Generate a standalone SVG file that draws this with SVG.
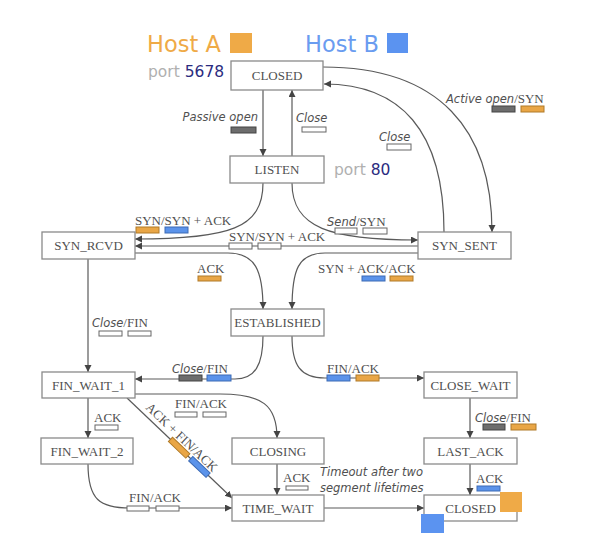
<svg xmlns="http://www.w3.org/2000/svg" width="606" height="551" viewBox="0 0 606 551">
<style>
.box{fill:#fff;stroke:#8a8a8a;stroke-width:1.3}
.st{font-family:"Liberation Serif",serif;font-size:13px;fill:#505050;text-anchor:middle}
.ln{fill:none;stroke:#5a5a5a;stroke-width:1.2}
.lb{font-family:"Liberation Serif",serif;font-size:13px;fill:#505050}
.it{font-family:"DejaVu Sans",sans-serif;font-style:italic;font-size:11.5px;fill:#505050}
.w{fill:#fff;stroke:#666;stroke-width:1}
.o{fill:#E9A646;stroke:#b07a28;stroke-width:1}
.b{fill:#5B93EA;stroke:#3d6bb5;stroke-width:1}
.g{fill:#6d6d6d;stroke:#444;stroke-width:1}
</style>
<defs>
<marker id="ar" markerUnits="userSpaceOnUse" markerWidth="8" markerHeight="8" refX="7" refY="3.5" orient="auto">
<path d="M0,0 L7,3.5 L0,7 z" fill="#444"/>
</marker>
</defs>
<rect width="606" height="551" fill="#fff"/>
<g id="legend">
<text x="147" y="52" font-family="DejaVu Sans,sans-serif" font-size="22.5" fill="#EFAA47">Host A</text>
<rect x="230" y="33" width="22" height="20" fill="#EFAA47"/>
<text x="305" y="52" font-family="DejaVu Sans,sans-serif" font-size="22.5" fill="#6A9CF0">Host B</text>
<rect x="387" y="33" width="21" height="20" fill="#5B93F0"/>
<text x="148" y="77" font-family="DejaVu Sans,sans-serif" font-size="15.5" fill="#b0b0b0">port <tspan fill="#2b2b80">5678</tspan></text>
<text x="334" y="175" font-family="DejaVu Sans,sans-serif" font-size="15.5" fill="#b0b0b0">port <tspan fill="#2b2b80">80</tspan></text>
</g>
<g id="connectors">
<path class="ln" marker-end="url(#ar)" d="M263,90 V156"/>
<path class="ln" marker-end="url(#ar)" d="M292,156 V90"/>
<path class="ln" marker-end="url(#ar)" d="M323,67 C440,67 492,130 492,232"/>
<path class="ln" marker-end="url(#ar)" d="M444,232 C444,130 400,84 324,84"/>
<path class="ln" marker-end="url(#ar)" d="M263,183 C263,228 230,239 135,239"/>
<path class="ln" marker-end="url(#ar)" d="M292,183 C292,228 330,240 418,240"/>
<path class="ln" marker-end="url(#ar)" d="M418,246 H135"/>
<path class="ln" marker-end="url(#ar)" d="M135,253 H228 C255,253 263,270 263,309"/>
<path class="ln" marker-end="url(#ar)" d="M418,253 H325 C298,253 292,270 292,309"/>
<path class="ln" marker-end="url(#ar)" d="M88,259 V372"/>
<path class="ln" marker-end="url(#ar)" d="M263,336 C263,365 255,379 235,379 H135"/>
<path class="ln" marker-end="url(#ar)" d="M292,336 C292,365 300,378 325,378 H424"/>
<path class="ln" marker-end="url(#ar)" d="M470,398 V438"/>
<path class="ln" marker-end="url(#ar)" d="M470,464 V495"/>
<path class="ln" marker-end="url(#ar)" d="M88,398 V438"/>
<path class="ln" marker-end="url(#ar)" d="M135,394 H220 C262,394 277,405 277,438"/>
<path class="ln" marker-end="url(#ar)" d="M127,398 L232,498"/>
<path class="ln" marker-end="url(#ar)" d="M277,464 V495"/>
<path class="ln" marker-end="url(#ar)" d="M88,464 C88,500 100,508 130,508 H232"/>
<path class="ln" marker-end="url(#ar)" d="M324,508 H424"/>
</g>
<g id="labels">
<text class="it" x="258" y="121" text-anchor="end">Passive open</text>
<rect class="g" x="231" y="127" width="25" height="6"/>
<text class="it" x="296" y="122">Close</text>
<rect class="w" x="302" y="127" width="24" height="5"/>
<text x="446" y="103"><tspan class="it">Active open</tspan><tspan class="lb">/SYN</tspan></text>
<rect class="g" x="492" y="106" width="23" height="6"/>
<rect class="o" x="521" y="106" width="23" height="6"/>
<text class="it" x="379" y="141">Close</text>
<rect class="w" x="387" y="144" width="24" height="6"/>
<text x="327" y="226"><tspan class="it">Send</tspan><tspan class="lb">/SYN</tspan></text>
<rect class="w" x="335" y="228" width="22" height="6"/>
<rect class="w" x="363" y="228" width="24" height="6"/>
<text class="lb" x="135" y="225">SYN/SYN + ACK</text>
<rect class="o" x="136" y="227" width="23" height="6"/>
<rect class="b" x="165" y="227" width="23" height="6"/>
<text class="lb" x="229" y="241">SYN/SYN + ACK</text>
<rect class="w" x="229" y="243" width="23" height="6"/>
<rect class="w" x="258" y="243" width="23" height="6"/>
<text class="lb" x="197" y="273">ACK</text>
<rect class="o" x="198" y="276" width="23" height="5"/>
<text class="lb" x="318" y="273">SYN + ACK/ACK</text>
<rect class="b" x="362" y="276" width="23" height="5"/>
<rect class="o" x="390" y="276" width="23" height="5"/>
<text x="92" y="327"><tspan class="it">Close</tspan><tspan class="lb">/FIN</tspan></text>
<rect class="w" x="99" y="331" width="23" height="5"/>
<rect class="w" x="128" y="331" width="23" height="5"/>
<text x="172" y="373"><tspan class="it">Close</tspan><tspan class="lb">/FIN</tspan></text>
<rect class="g" x="179" y="375" width="23" height="6"/>
<rect class="b" x="207" y="375" width="24" height="6"/>
<text class="lb" x="327" y="373">FIN/ACK</text>
<rect class="b" x="327" y="375" width="23" height="6"/>
<rect class="o" x="356" y="375" width="23" height="6"/>
<text x="475" y="422"><tspan class="it">Close</tspan><tspan class="lb">/FIN</tspan></text>
<rect class="g" x="483" y="424" width="22" height="6"/>
<rect class="o" x="511" y="424" width="25" height="6"/>
<text class="lb" x="476" y="483">ACK</text>
<rect class="b" x="477" y="486" width="23" height="5"/>
<text class="lb" x="94" y="422">ACK</text>
<rect class="w" x="95" y="425" width="23" height="5"/>
<text class="lb" x="175" y="408">FIN/ACK</text>
<rect class="w" x="175" y="412" width="22" height="5"/>
<rect class="w" x="203" y="412" width="23" height="5"/>
<text class="lb" x="283" y="482">ACK</text>
<rect class="w" x="286" y="486" width="22" height="4"/>
<text class="lb" x="129" y="502">FIN/ACK</text>
<rect class="w" x="127" y="506" width="22" height="5"/>
<rect class="w" x="156" y="506" width="23" height="5"/>
<text class="it" x="320" y="476">Timeout after two</text>
<text class="it" x="320" y="492">segment lifetimes</text>
<g transform="translate(127,398) rotate(43.6)">
<text class="lb" x="20" y="-5">ACK + FIN/ACK</text>
<rect class="o" x="60" y="-3" width="24" height="6"/>
<rect class="b" x="88" y="-3" width="24" height="6"/>
</g>
</g>
<g id="closed_top"><rect class="box" x="231" y="61" width="92" height="29"/><text class="st" x="277" y="80">CLOSED</text></g>
<g id="listen"><rect class="box" x="230" y="156" width="94" height="27"/><text class="st" x="277" y="174">LISTEN</text></g>
<g id="syn_rcvd"><rect class="box" x="42" y="232" width="93" height="27"/><text class="st" x="88.5" y="250">SYN_RCVD</text></g>
<g id="syn_sent"><rect class="box" x="418" y="232" width="93" height="27"/><text class="st" x="464.5" y="250">SYN_SENT</text></g>
<g id="established"><rect class="box" x="231" y="309" width="93" height="27"/><text class="st" x="277.5" y="327">ESTABLISHED</text></g>
<g id="fin_wait_1"><rect class="box" x="42" y="372" width="93" height="26"/><text class="st" x="88.5" y="389.5">FIN_WAIT_1</text></g>
<g id="close_wait"><rect class="box" x="424" y="372" width="93" height="26"/><text class="st" x="470.5" y="389.5">CLOSE_WAIT</text></g>
<g id="fin_wait_2"><rect class="box" x="41" y="438" width="92" height="26"/><text class="st" x="87" y="455.5">FIN_WAIT_2</text></g>
<g id="closing"><rect class="box" x="232" y="438" width="92" height="26"/><text class="st" x="278" y="455.5">CLOSING</text></g>
<g id="last_ack"><rect class="box" x="424" y="438" width="93" height="26"/><text class="st" x="470.5" y="455.5">LAST_ACK</text></g>
<g id="time_wait"><rect class="box" x="232" y="495" width="92" height="26"/><text class="st" x="278" y="512.5">TIME_WAIT</text></g>
<g id="closed_bottom"><rect class="box" x="424" y="495" width="93" height="26"/><text class="st" x="470.5" y="512.5">CLOSED</text>
<rect x="500" y="492" width="22" height="20" fill="#EFAA47"/>
<rect x="421" y="514" width="23" height="19" fill="#5B93F0"/></g>
</svg>
